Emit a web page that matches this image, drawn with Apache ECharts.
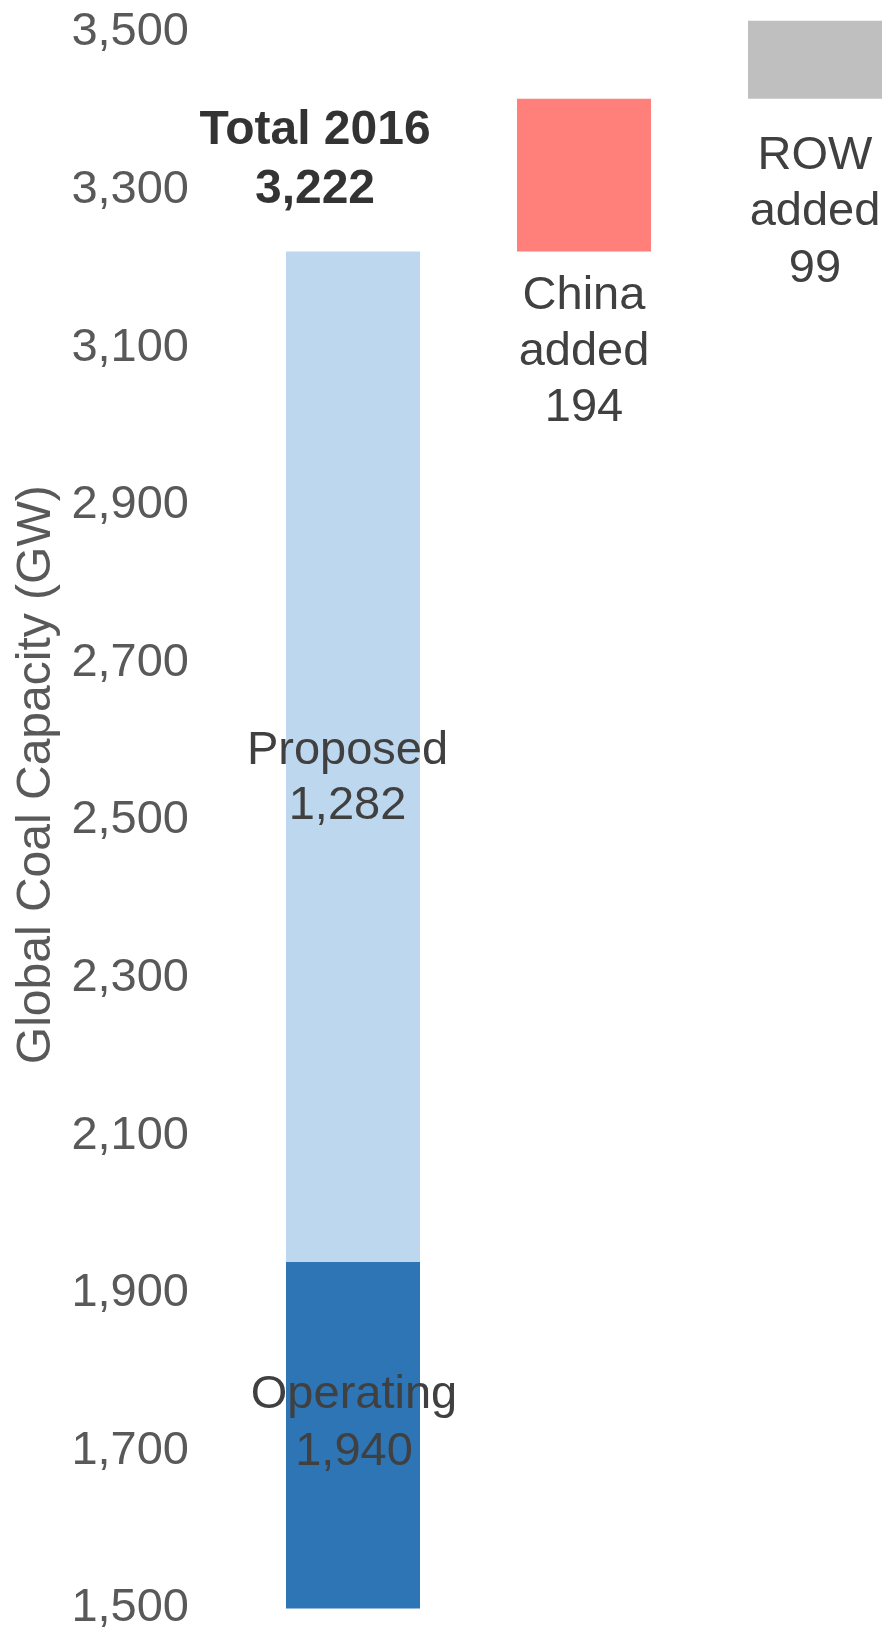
<!DOCTYPE html>
<html>
<head>
<meta charset="utf-8">
<script src="https://cdn.jsdelivr.net/npm/echarts@6/dist/echarts.min.js"></script>
<style>
html,body{margin:0;padding:0;background:#fff;}
#chart{width:891px;height:1632px;}
</style>
</head>
<body>
<div id="chart"></div>
<script>
const categories = ['Total 2016', 'China added', 'ROW added'];
const operating = [1940, null, null];
const proposed = [1282, null, null];
const chinaAdded = [null, 194, null];
const rowAdded = [null, null, 99];
const yTicks = [1500, 1700, 1900, 2100, 2300, 2500, 2700, 2900, 3100, 3300, 3500];

const total = operating[0] + proposed[0];
const base = [null, total, total + chinaAdded[1]];
const fmt = v => Number(v).toLocaleString('en-US');
const FONT = '"Liberation Sans", Arial, Helvetica, sans-serif';

const chart = echarts.init(document.getElementById('chart'), null, {renderer: 'canvas'});
chart.setOption({
  animation: false,
  backgroundColor: '#ffffff',
  textStyle: {fontFamily: FONT},
  grid: {left: 237.5, width: 693, top: 1, bottom: 23.5, containLabel: false, outerBoundsMode: 'none'},
  xAxis: {
    type: 'category',
    data: categories,
    show: false
  },
  yAxis: {
    type: 'value',
    min: yTicks[0],
    max: 3540,
    interval: 200,
    name: 'Global Coal Capacity (GW)',
    nameLocation: 'middle',
    nameGap: 176,
    nameTextStyle: {color: '#595959', fontSize: 48, fontFamily: FONT, padding: [0, 0, 0, 60]},
    axisLine: {show: false},
    axisTick: {show: false},
    splitLine: {show: false},
    axisLabel: {
      color: '#595959',
      fontSize: 47,
      fontFamily: FONT,
      margin: 48.5,
      padding: [0, 0, 9, 0],
      showMaxLabel: false,
      formatter: v => yTicks.indexOf(v) >= 0 ? fmt(v) : ''
    }
  },
  series: [
    {
      name: 'Operating', type: 'bar', stack: 'cap', barWidth: 134,
      data: operating,
      itemStyle: {color: '#2E75B6'},
      label: {
        show: true, position: 'inside', offset: [1, -12],
        color: '#404040', fontSize: 47, lineHeight: 57, fontFamily: FONT,
        formatter: p => 'Operating\n' + fmt(p.value)
      }
    },
    {
      name: 'Proposed', type: 'bar', stack: 'cap', barWidth: 134,
      data: proposed,
      itemStyle: {color: '#BDD7EE'},
      label: {
        show: true, position: 'inside', offset: [-5.5, 21.5],
        color: '#404040', fontSize: 47, lineHeight: 55, fontFamily: FONT,
        formatter: p => 'Proposed\n' + fmt(p.value)
      }
    },
    {
      name: 'Base', type: 'bar', stack: 'cap', barWidth: 134,
      data: base,
      itemStyle: {color: 'rgba(0,0,0,0)'},
      silent: true
    },
    {
      name: 'China added', type: 'bar', stack: 'cap', barWidth: 134,
      data: chinaAdded,
      itemStyle: {color: '#FF7F7A'},
      label: {
        show: true, position: 'bottom', distance: 16,
        color: '#404040', fontSize: 47, lineHeight: 56, fontFamily: FONT,
        formatter: p => 'China\nadded\n' + fmt(p.value)
      }
    },
    {
      name: 'ROW added', type: 'bar', stack: 'cap', barWidth: 134,
      data: rowAdded,
      itemStyle: {color: '#BFBFBF'},
      label: {
        show: true, position: 'bottom', distance: 29,
        color: '#404040', fontSize: 47, lineHeight: 56.5, fontFamily: FONT,
        formatter: p => 'ROW\nadded\n' + fmt(p.value)
      }
    },
    {
      name: 'Total', type: 'scatter', symbolSize: 0,
      data: [[0, total]],
      itemStyle: {color: '#000000'},
      label: {
        show: true, position: 'top', distance: 32, offset: [-38, 0],
        color: '#000000', fontSize: 48, fontWeight: 'bold', lineHeight: 59, fontFamily: FONT,
        formatter: () => 'Total 2016\n' + fmt(total)
      }
    }
  ]
});
</script>
</body>
</html>
